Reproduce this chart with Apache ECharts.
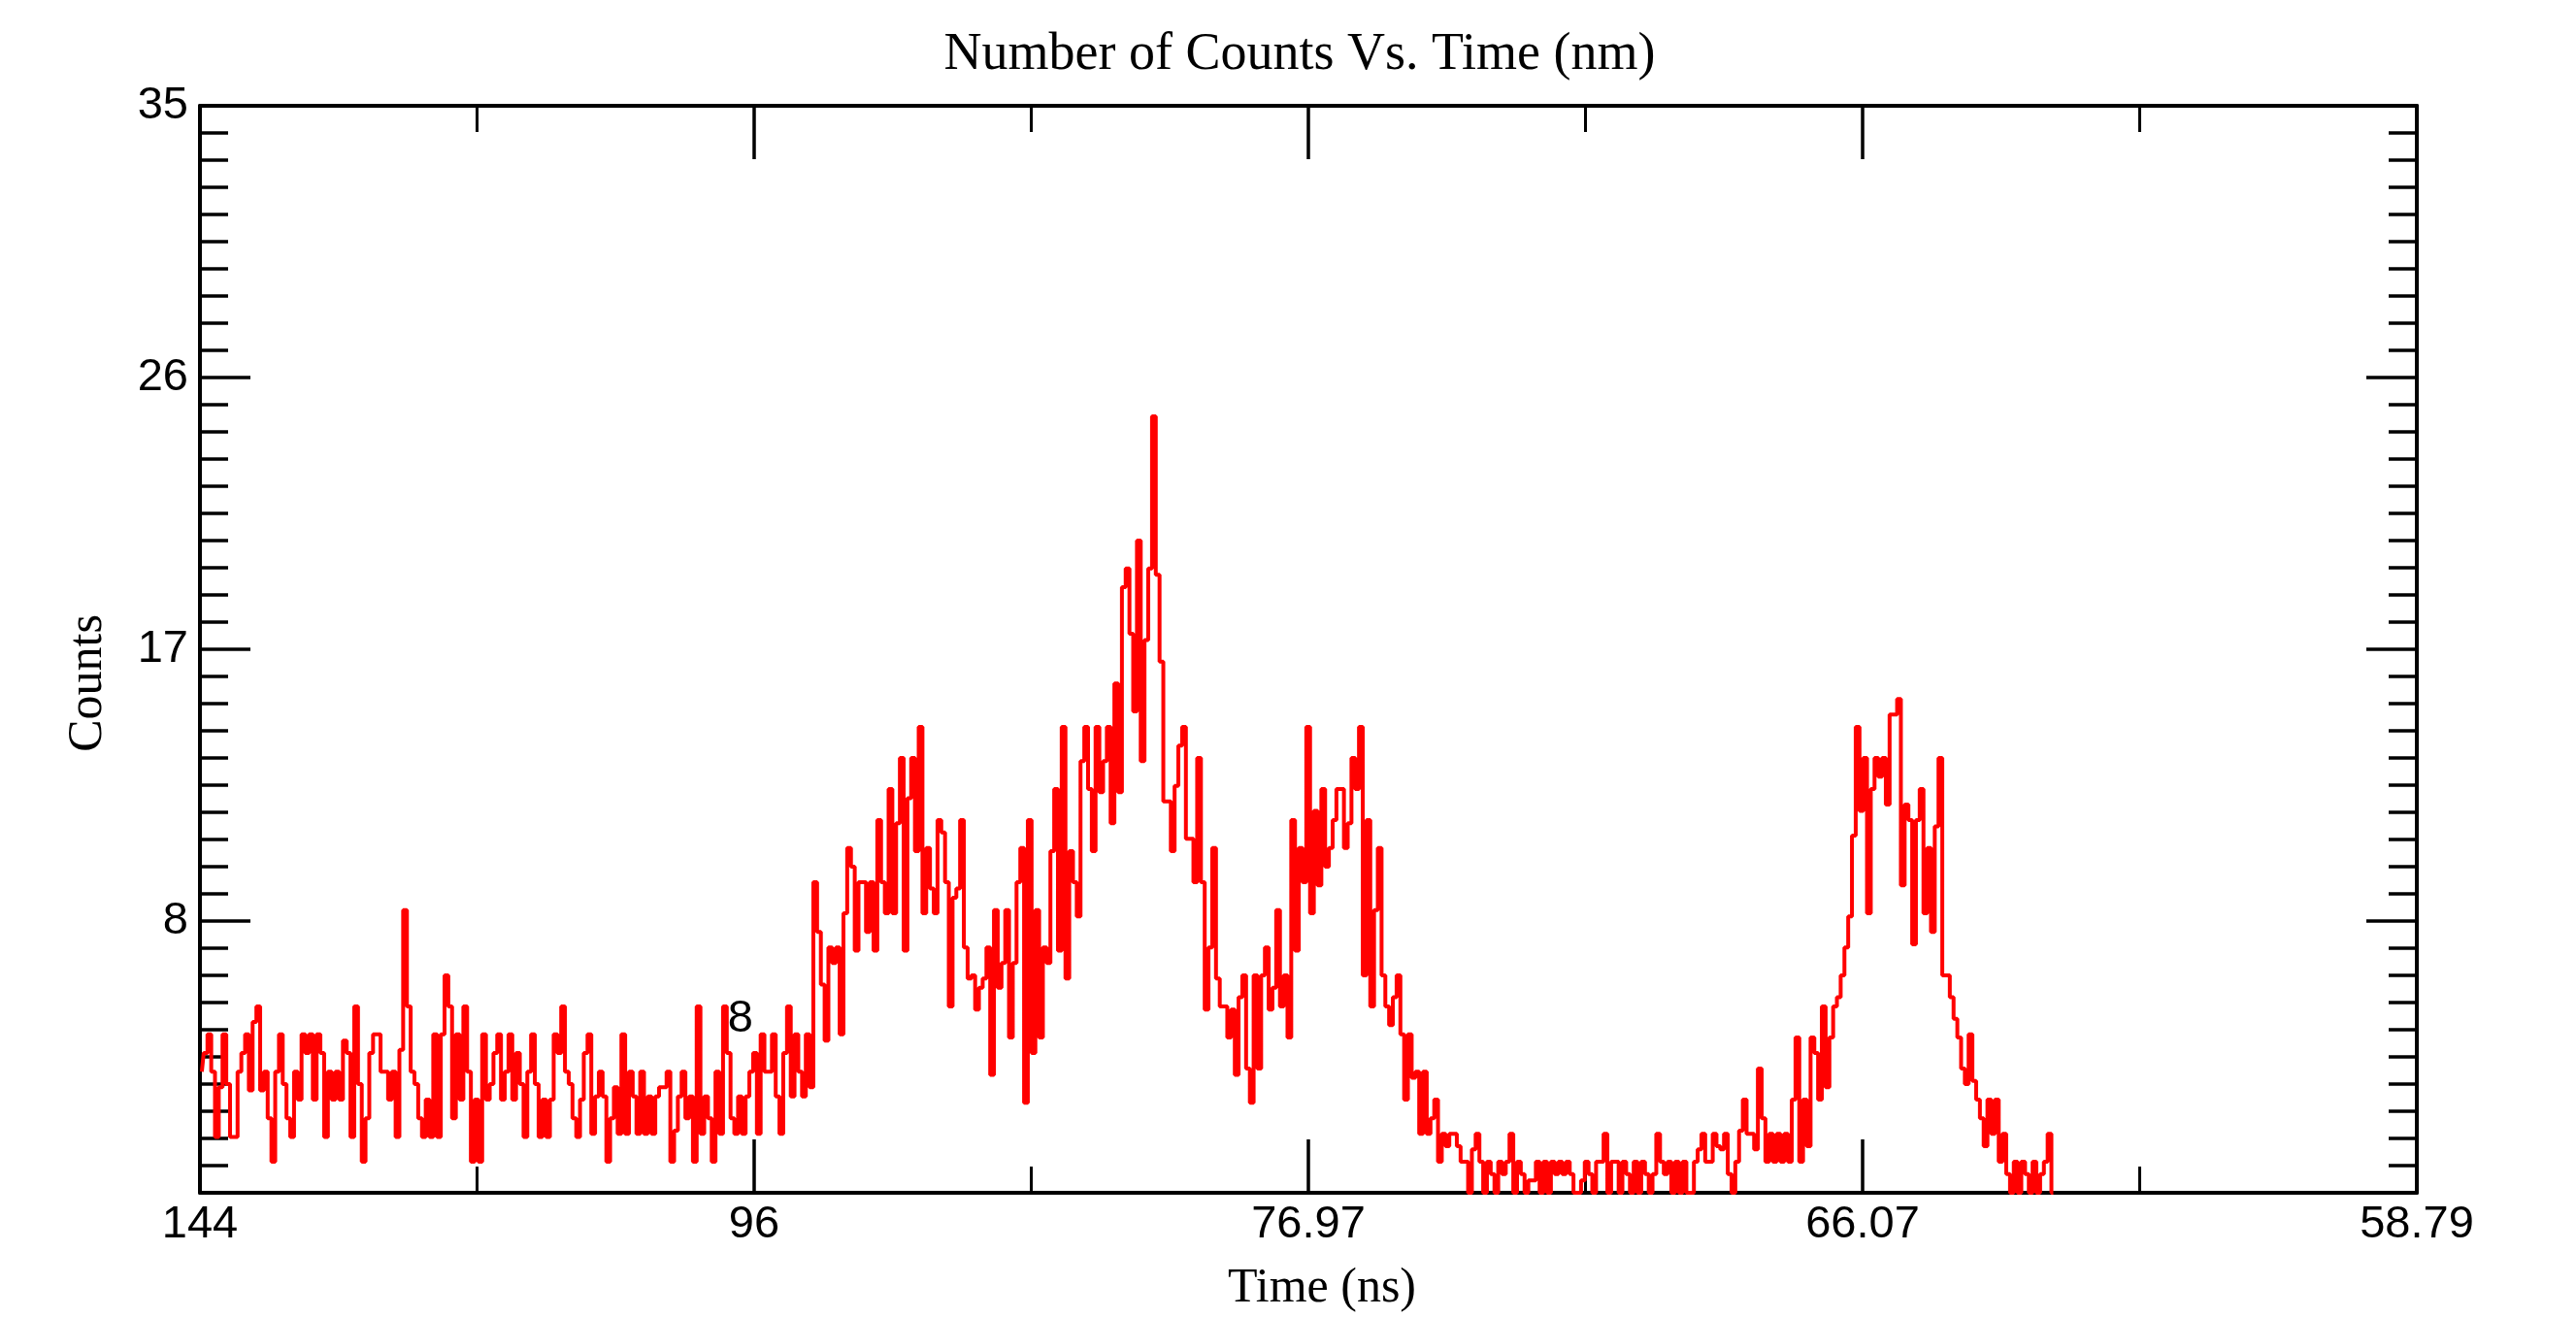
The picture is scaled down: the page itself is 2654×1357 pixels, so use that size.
<!DOCTYPE html>
<html>
<head>
<meta charset="utf-8">
<title>Number of Counts Vs. Time</title>
<script src="https://cdn.jsdelivr.net/npm/echarts@6/dist/echarts.min.js"></script>
<style>
  html, body { margin: 0; padding: 0; background: #ffffff; }
  #chart { width: 2654px; height: 1357px; }
</style>
</head>
<body>
<div id="chart"></div>
<script>
// tick labels (the x axis is linear in 1/t^2, so the time labels are uneven)
var xTickLabels = ['144', '96', '76.97', '66.07', '58.79'];
var yTickLabels = ['', '8', '17', '26', '35'];

// histogram bins, in axis units (0..4 across the plot)
var binStart = 0;
var binWidth = 0.00679;

// counts per bin left to right
var counts = [
  // 144 .. 96
  3.9, 4.5, 5.1, 3.9, 1.8, 3.4, 5.1, 3.5, 1.8, 1.8,
  3.9, 4.5, 5.1, 3.3, 5.5, 6.0, 3.3, 3.9, 2.4, 1.0,
  3.9, 5.1, 3.5, 2.4, 1.8, 3.9, 3.0, 5.1, 4.5, 5.1,
  3.0, 5.1, 4.5, 1.8, 3.9, 3.0, 3.9, 3.0, 4.9, 4.5,
  1.8, 6.0, 3.5, 1.0, 2.4, 4.5, 5.1, 5.1, 3.9, 3.9,
  3.0, 3.9, 1.8, 4.6, 9.1, 6.0, 3.9, 3.5, 2.4, 1.8,
  3.0, 1.8, 5.1, 1.8, 5.1, 7.0, 6.0, 2.4, 5.1, 3.0,
  6.0, 3.9, 1.0, 3.0, 1.0, 5.1, 3.0, 3.5, 4.5, 5.1,
  3.0, 3.9, 5.1, 3.0, 4.5, 3.5, 1.8, 3.9, 5.1, 3.5,
  1.8, 3.0, 1.8, 3.0, 5.1, 4.5, 6.0, 3.9, 3.5, 2.4,
  1.8, 3.0, 4.5, 5.1,
  // 96 .. first bump
  1.9, 3.1, 3.9, 3.1, 1.0, 2.4, 3.4, 1.9, 5.1, 1.9,
  3.9, 3.1, 1.9, 3.9, 1.9, 3.1, 1.9, 3.1, 3.4, 3.4,
  3.9, 1.0, 2.0, 3.1, 3.9, 2.4, 3.1, 1.0, 6.0, 1.9,
  3.1, 2.4, 1.0, 3.9, 1.9, 6.0, 4.5, 2.4, 1.9, 3.1,
  1.9, 3.1, 3.9, 4.5, 1.9, 5.1, 3.9, 3.9, 5.1, 3.1,
  1.9, 4.5, 6.0, 3.1, 5.1, 3.9, 3.1, 5.1, 3.4, 10.0,
  8.4, 6.7, 4.9, 7.9, 7.4, 7.9, 5.1, 9.0, 11.1, 10.5,
  7.8, 10.0, 10.0, 8.4, 10.0, 7.8, 12.0, 10.0, 9.0, 13.0,
  9.0, 11.9, 14.0, 7.8, 12.7, 14.0, 11.0, 15.0, 9.0, 11.1,
  9.8, 9.0, 12.0, 11.6, 10.0, 6.0, 9.5, 9.8,
  // main peak
  12.0, 7.9, 6.9, 7.0, 5.9, 6.6, 6.9, 7.9, 3.8, 9.1,
  6.6, 7.4, 9.1, 5.0, 7.4, 10.0, 11.1, 2.9, 12.0, 4.5,
  9.1, 5.0, 7.9, 7.4, 11.0, 13.0, 7.8, 15.0, 6.9, 11.0,
  10.0, 8.9, 13.9, 15.0, 13.0, 11.0, 15.0, 12.9, 13.9, 15.0,
  11.9, 16.4, 12.9, 19.5, 20.1, 18.0, 15.5, 21.0, 13.9, 17.8,
  20.1, 25.0, 19.9, 17.1, 12.6, 12.6, 11.0, 13.1, 14.4, 15.0,
  11.4, 11.4, 10.0, 14.0, 10.0, 5.9, 7.9, 11.1, 6.9, 6.0,
  6.0, 5.0, 5.9, 3.8, 6.3, 7.0, 4.0, 2.9, 7.0, 4.0,
  7.0, 7.9, 5.9, 6.6, 9.1, 6.0, 7.0, 5.0, 12.0, 7.8,
  11.1, 10.0, 15.0, 9.0, 12.3, 9.9, 13.0, 10.5,
  // 76.97 peak and valley
  11.1, 12.0, 13.0, 13.0, 11.1, 11.9, 14.0, 13.0, 15.0, 7.0,
  12.0, 6.0, 9.1, 11.1, 7.0, 6.0, 5.4, 6.3, 7.0, 5.1,
  3.0, 5.1, 3.7, 3.9, 1.9, 3.9, 1.9, 2.4, 3.0, 1.0,
  1.9, 1.5, 1.9, 1.9, 1.5, 1.0, 1.0, 0, 1.4, 1.9,
  1.0, 0, 1.0, 0.6, 0, 1.0, 0.6, 1.0, 1.9, 0,
  1.0, 0.6, 0, 0.4, 0.4, 1.0, 0, 1.0, 0, 1.0,
  0.6, 1.0, 0.6, 1.0, 0.6, 0, 0, 0.4, 1.0, 0.6,
  0, 1.0, 1.0, 1.9, 0, 1.0, 1.0, 0, 1.0, 0.6,
  0, 1.0, 0, 1.0, 0.6, 0, 0.6, 1.9, 1.0, 0.6,
  1.0, 0, 1.0, 0, 1.0, 0,
  // 66.07 peak
  0, 1.0, 1.4, 1.9, 1.0, 1.0, 1.9, 1.5, 1.4, 1.9,
  0.6, 0, 1.0, 2.0, 3.0, 1.9, 1.9, 1.4, 4.0, 2.4,
  1.0, 1.9, 1.0, 1.9, 1.0, 1.9, 1.0, 3.0, 5.0, 1.0,
  3.0, 1.5, 5.0, 4.5, 3.0, 6.0, 3.4, 5.0, 6.0, 6.3,
  7.0, 7.9, 8.9, 11.5, 15.0, 12.3, 14.0, 9.0, 13.0, 14.0,
  13.4, 14.0, 12.5, 15.4, 15.4, 15.9, 9.9, 12.5, 12.0, 8.0,
  12.0, 13.0, 9.0, 11.1, 8.4, 11.8, 14.0, 7.0, 7.0, 6.3,
  5.6, 5.0, 4.0, 3.5, 5.1, 3.6, 3.0, 2.4, 1.5, 3.0,
  1.9, 3.0, 1.0, 1.9, 0.6, 0, 1.0, 0, 1.0, 0.6,
  0, 1.0, 0, 0.6, 1.0, 1.9, 0
];

var chart = echarts.init(document.getElementById('chart'));

var seriesData = [];
for (var i = 0; i < counts.length; i++) {
  seriesData.push([binStart + (i + 0.5) * binWidth, counts[i]]);
}

var black = '#000000';
var sansFont = 'Liberation Sans';
var serifFont = 'Liberation Serif';

// x axis: bottom one has labels, top one only mirrors the ticks
function xAxisConf(pos, showLabel) {
  return {
    type: 'value',
    position: pos,
    min: 0,
    max: 4,
    interval: 1,
    axisLine: { show: true, onZero: false, lineStyle: { color: black, width: 4 } },
    axisTick: { show: true, inside: true, length: 55, lineStyle: { color: black, width: 3.5 } },
    minorTick: { show: true, splitNumber: 2, length: 27, lineStyle: { color: black, width: 3 } },
    splitLine: { show: false },
    axisLabel: {
      show: showLabel,
      margin: 10,
      color: black,
      fontFamily: sansFont,
      fontSize: 47,
      showMinLabel: true,
      showMaxLabel: true,
      formatter: function (v) { return xTickLabels[Math.round(v)]; }
    }
  };
}

// y axis: 0..35 in four steps, labels truncated like the original (8, 17, 26, 35)
function yAxisConf(pos, showLabel) {
  return {
    type: 'value',
    position: pos,
    min: 0,
    max: 35,
    interval: 8.75,
    axisLine: { show: true, onZero: false, lineStyle: { color: black, width: 4 } },
    axisTick: { show: true, inside: true, length: 52, lineStyle: { color: black, width: 3.5 } },
    minorTick: { show: true, splitNumber: 10, length: 29, lineStyle: { color: black, width: 3.5 } },
    splitLine: { show: false },
    axisLabel: {
      show: showLabel,
      margin: 12,
      color: black,
      fontFamily: sansFont,
      fontSize: 47,
      formatter: function (v) { return yTickLabels[Math.round(v / 8.75)]; }
    }
  };
}

chart.setOption({
  backgroundColor: '#ffffff',
  animation: false,
  grid: { left: 206, right: 164, top: 109, bottom: 128, containLabel: false },
  xAxis: [xAxisConf('bottom', true), xAxisConf('top', false)],
  yAxis: [yAxisConf('left', true), yAxisConf('right', false)],
  graphic: [
    {
      type: 'text', x: 1339, y: 57,
      style: { text: 'Number of Counts Vs. Time (nm)', fill: black, font: '54px "' + serifFont + '"', textAlign: 'center', textVerticalAlign: 'middle' }
    },
    {
      type: 'text', x: 1362, y: 1328,
      style: { text: 'Time (ns)', fill: black, font: '50px "' + serifFont + '"', textAlign: 'center', textVerticalAlign: 'middle' }
    },
    {
      type: 'text', x: 91, y: 704, rotation: Math.PI / 2,
      style: { text: 'Counts', fill: black, font: '50px "' + serifFont + '"', textAlign: 'center', textVerticalAlign: 'middle' }
    },
    {
      type: 'text', x: 776, y: 1050,
      style: { text: '8', fill: black, font: '47px "' + sansFont + '"', textAlign: 'right', textVerticalAlign: 'middle' }
    }
  ],
  series: [
    {
      name: 'Counts',
      type: 'line',
      xAxisIndex: 0,
      yAxisIndex: 0,
      step: 'middle',
      showSymbol: false,
      symbol: 'none',
      lineStyle: { color: '#ff0000', width: 4 },
      data: seriesData
    }
  ]
});
</script>
</body>
</html>
